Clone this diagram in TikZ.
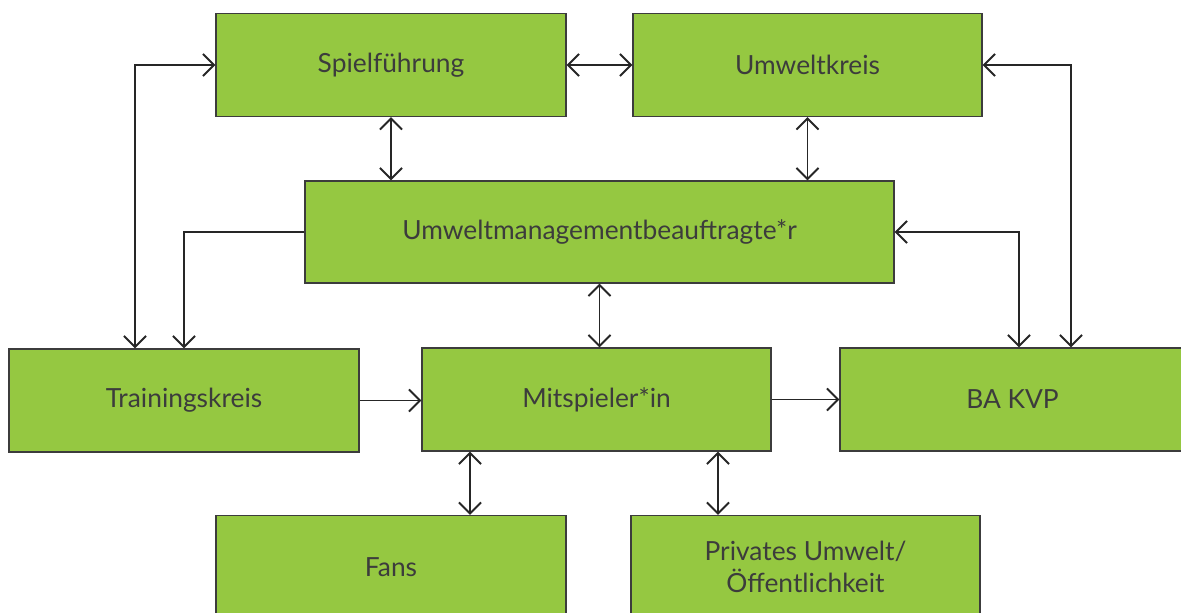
\documentclass[tikz,border=0pt]{standalone}
\usepackage{fontspec}
\setmainfont{Lato}
\usetikzlibrary{arrows.meta}
\definecolor{kreisgruen}{HTML}{95C841}
\definecolor{randgrau}{HTML}{3C3C3C}

\begin{document}
\begin{tikzpicture}[
	kasten/.style={draw=randgrau, line width=0.8pt, fill=kreisgruen, text=randgrau,
		minimum width=7cm, minimum height=2.06cm, align=center, inner sep=0pt,
		font=\fontsize{15}{18}\selectfont},
	pfeil/.style={draw=black!85, line width=1.1pt,
		arrows={Straight Barb[length=2.2mm,width=4.4mm]-Straight Barb[length=2.2mm,width=4.4mm]}},
	einpfeil/.style={draw=black!85, line width=1.1pt,
		arrows={-Straight Barb[length=2.2mm,width=4.4mm]}}]
	\useasboundingbox (0,0) rectangle (23.62,12.24);
	\clip (0,0) rectangle (23.62,12.24);
 	 \node[kasten] (spiel) at (7.82,10.94) {Spielführung};
 	 \node[kasten, minimum width=6.98cm] (umwelt) at (16.15,10.94) {Umweltkreis};
 	 \node[kasten, minimum width=11.78cm, minimum height=2.04cm] (umb) at (11.99,7.6) {Umweltmanagementbeauftragte*r};
 	 \node[kasten] (training) at (3.68,4.23) {Trainingskreis};
 	 \node[kasten, minimum width=6.98cm] (mit) at (11.93,4.25) {Mitspieler*in};
 	 \node[kasten, minimum width=6.9cm] (bakvp) at (20.25,4.25) {BA KVP};
 	 \node[kasten] (fans) at (7.82,0.9) {Fans};
 	 \node[kasten, minimum width=6.98cm] (privat) at (16.11,0.9) {Privates Umwelt/\\Öffentlichkeit};

   	 \draw[pfeil] (spiel.west) -| ([xshift=-0.98cm]training.north);
   	 \draw[pfeil] (spiel.east) -- (umwelt.west);
   	 \draw[pfeil] (spiel.south) -- (spiel.south |- umb.north);
   	 \draw[pfeil] (umwelt.south) -- (umwelt.south |- umb.north);
   	 \draw[pfeil] (umwelt.east) -| ([xshift=1.17cm]bakvp.north);
   	 \draw[einpfeil] (umb.west) -| (training.north);
   	 \draw[pfeil] (umb.east) -| ([xshift=0.13cm]bakvp.north);
   	 \draw[pfeil] (umb.south) -- (umb.south |- mit.north);
   	 \draw[einpfeil] (training.east) -- (training.east -| mit.west);
   	 \draw[einpfeil] (mit.east) -- (mit.east -| bakvp.west);
   	 \draw[pfeil] ([xshift=-2.53cm]mit.south) -- ([xshift=-2.53cm]mit.south |- fans.north);
   	 \draw[pfeil] ([xshift=2.43cm]mit.south) -- ([xshift=2.43cm]mit.south |- privat.north);
\end{tikzpicture}
\end{document}
